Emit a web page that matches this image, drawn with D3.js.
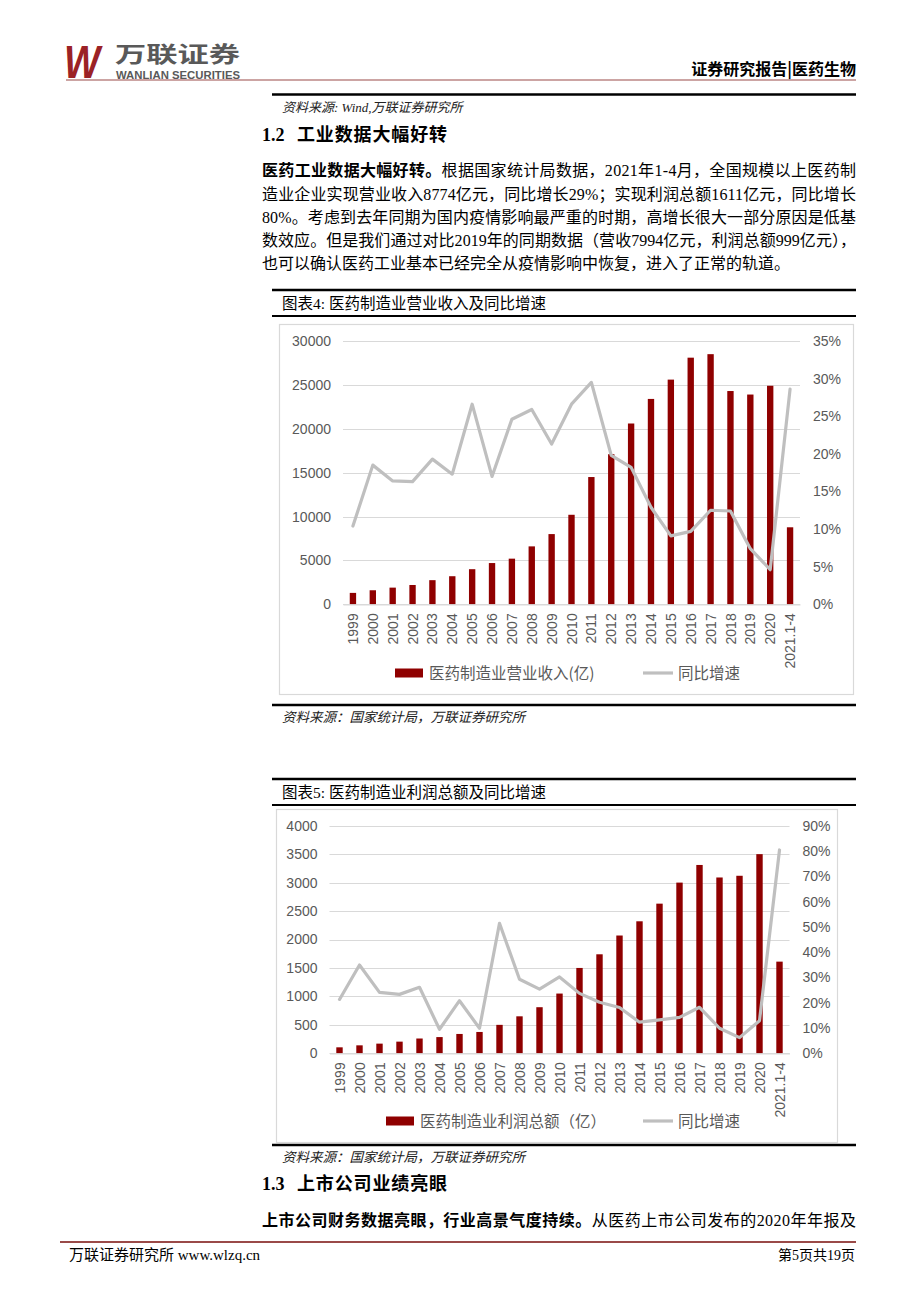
<!DOCTYPE html>
<html lang="zh">
<head>
<meta charset="UTF-8">
<title>医药制造业营业收入及利润</title>
<script src="https://d3js.org/d3.v7.min.js"></script>
<style>
  * { margin: 0; padding: 0; }
  body { background: #fff; width: 920px; height: 1302px; overflow: hidden; }
  svg { display: block; }
</style>
</head>
<body>
<svg id="page"></svg>
<script>
// 数据
const years = ['1999','2000','2001','2002','2003','2004','2005','2006','2007','2008','2009','2010',
  '2011','2012','2013','2014','2015','2016','2017','2018','2019','2020','2021.1-4'];
const revenue = [1300,1600,1900,2200,2750,3200,4000,4700,5200,6600,8000,10200,
  14500,17100,20600,23400,25600,28100,28500,24300,23900,24900,8774];
const revenueGrowth = [10.4,18.5,16.4,16.3,19.3,17.3,26.6,17.0,24.6,25.9,21.3,26.6,
  29.5,19.8,18.2,12.9,9.1,9.7,12.5,12.4,7.4,4.6,28.6];
const profit = [105,140,170,205,260,285,340,375,500,650,810,1050,
  1500,1740,2070,2320,2630,3000,3310,3090,3120,3500,1611];
const profitGrowth = [21.3,34.9,24.1,23.3,26.1,9.5,20.8,9.9,51.4,29.3,25.4,30.2,
  23.7,20.2,18.1,12.3,13.2,14.2,18.2,9.9,6.2,12.9,80.4];

const revTicks = [0,5000,10000,15000,20000,25000,30000];
const revGrowthTicks = [0,5,10,15,20,25,30,35];
const profitTicks = [0,500,1000,1500,2000,2500,3000,3500,4000];
const profitGrowthTicks = [0,10,20,30,40,50,60,70,80,90];

const SERIF = "'Liberation Serif', 'Noto Sans CJK SC', serif";
const CJK = "'Noto Sans CJK SC', sans-serif";
const SANS = "'Liberation Sans', Arial, 'Noto Sans CJK SC', sans-serif";
const BAR = '#8f0000', LINE = '#bfbfbf', AXIS_TXT = '#595959', GRID = '#d9d9d9';

const svg = d3.select('#page').attr('width', 920).attr('height', 1302);
svg.append('rect').attr('width', 920).attr('height', 1302).attr('fill', '#fff');

// ---- 页眉 ----
svg.append('text').attr('x', 64).attr('y', 78)
  .attr('font-family', SANS).attr('font-weight', 900).attr('font-style', 'italic')
  .attr('font-size', 46).attr('fill', '#9b2226')
  .attr('textLength', 36).attr('lengthAdjust', 'spacingAndGlyphs').text('W');
svg.append('text').attr('x', 115).attr('y', 62)
  .attr('font-family', CJK).attr('font-weight', 700).attr('font-size', 22).attr('fill', '#595959')
  .attr('textLength', 125).attr('lengthAdjust', 'spacingAndGlyphs').text('万联证券');
svg.append('text').attr('x', 116).attr('y', 78.5)
  .attr('font-family', SANS).attr('font-weight', 700).attr('font-size', 10).attr('fill', '#595959')
  .attr('textLength', 124).attr('lengthAdjust', 'spacingAndGlyphs').text('WANLIAN SECURITIES');
svg.append('text').attr('x', 856).attr('y', 75).attr('text-anchor', 'end')
  .attr('font-family', CJK).attr('font-weight', 700).attr('font-size', 16).attr('fill', '#000')
  .text('证券研究报告|医药生物');
svg.append('line').attr('x1', 66).attr('x2', 856).attr('y1', 80).attr('y2', 80)
  .attr('stroke', '#9a4a48').attr('stroke-width', 1.2);

// 上一图的来源
svg.append('line').attr('x1', 272).attr('x2', 856).attr('y1', 94.5).attr('y2', 94.5)
  .attr('stroke', '#000').attr('stroke-width', 2.5);
svg.append('text').attr('x', 282).attr('y', 112)
  .attr('font-family', SERIF).attr('font-style', 'italic').attr('font-size', 13).attr('fill', '#222')
  .text('资料来源: Wind,万联证券研究所');

function heading(num, title, y) {
  svg.append('text').attr('x', 262).attr('y', y)
    .attr('font-family', SERIF).attr('font-weight', 700).attr('font-size', 18).text(num);
  svg.append('text').attr('x', 297).attr('y', y)
    .attr('font-family', CJK).attr('font-weight', 700).attr('font-size', 18)
    .attr('textLength', 150).attr('lengthAdjust', 'spacing').text(title);
}

function paraLine(parts, y, justify) {
  const t = svg.append('text').attr('x', 262).attr('y', y)
    .attr('font-family', SERIF).attr('font-size', 16).attr('fill', '#000');
  if (justify) t.attr('textLength', 594).attr('lengthAdjust', 'spacing');
  parts.forEach(p => {
    t.append('tspan').attr('font-weight', p.bold ? 700 : 400).text(p.t);
  });
}

heading('1.2', '工业数据大幅好转', 141);
paraLine([{ t: '医药工业数据大幅好转。', bold: true },
  { t: '根据国家统计局数据，2021年1-4月，全国规模以上医药制' }], 176, true);
paraLine([{ t: '造业企业实现营业收入8774亿元，同比增长29%；实现利润总额1611亿元，同比增长' }], 200, true);
paraLine([{ t: '80%。考虑到去年同期为国内疫情影响最严重的时期，高增长很大一部分原因是低基' }], 223, true);
paraLine([{ t: '数效应。但是我们通过对比2019年的同期数据（营收7994亿元，利润总额999亿元），' }], 246, true);
paraLine([{ t: '也可以确认医药工业基本已经完全从疫情影响中恢复，进入了正常的轨道。' }], 269, false);

// ---- 图表 ----
function drawChart(cfg) {
  // 标题栏
  svg.append('line').attr('x1', 272).attr('x2', 856).attr('y1', cfg.titleTop).attr('y2', cfg.titleTop)
    .attr('stroke', '#000').attr('stroke-width', 2.5);
  svg.append('text').attr('x', 282).attr('y', cfg.titleTop + 19)
    .attr('font-family', SERIF).attr('font-size', 15.5).attr('fill', '#000').text(cfg.title);
  svg.append('line').attr('x1', 272).attr('x2', 856).attr('y1', cfg.titleTop + 26).attr('y2', cfg.titleTop + 26)
    .attr('stroke', '#000').attr('stroke-width', 2);

  // 外框
  svg.append('rect').attr('x', cfg.frame[0] + 0.5).attr('y', cfg.frame[1] + 0.5)
    .attr('width', cfg.frame[2] - cfg.frame[0]).attr('height', cfg.frame[3] - cfg.frame[1])
    .attr('fill', '#fff').attr('stroke', GRID).attr('stroke-width', 1.2);

  const x = d3.scaleBand().domain(years).range([cfg.plotX0, cfg.plotX1]).paddingInner(0.68).paddingOuter(0.34);
  const yL = d3.scaleLinear().domain(cfg.leftDomain).range([cfg.y0, cfg.yTop]);
  const yR = d3.scaleLinear().domain(cfg.rightDomain).range([cfg.y0, cfg.yTop]);

  const g = svg.append('g');
  // 网格线
  g.append('g').selectAll('line').data(cfg.leftTicks).join('line')
    .attr('x1', cfg.plotX0).attr('x2', cfg.plotX1)
    .attr('y1', d => Math.round(yL(d)) + 0.5).attr('y2', d => Math.round(yL(d)) + 0.5)
    .attr('stroke', GRID).attr('stroke-width', 1);

  // 左轴
  const axL = g.append('g').attr('transform', `translate(${cfg.plotX0},0)`)
    .call(d3.axisLeft(yL).tickValues(cfg.leftTicks).tickSize(0).tickPadding(12).tickFormat(d3.format('d')));
  axL.select('.domain').remove();
  axL.selectAll('text').attr('font-family', SANS).attr('font-size', 14).attr('fill', AXIS_TXT);

  // 右轴
  const axR = g.append('g').attr('transform', `translate(${cfg.plotX1},0)`)
    .call(d3.axisRight(yR).tickValues(cfg.rightTicks).tickSize(0).tickPadding(13).tickFormat(d => d + '%'));
  axR.select('.domain').remove();
  axR.selectAll('text').attr('font-family', SANS).attr('font-size', 14).attr('fill', AXIS_TXT);

  // 柱
  g.append('g').selectAll('rect').data(cfg.bars).join('rect')
    .attr('x', (d, i) => x(years[i]))
    .attr('width', x.bandwidth())
    .attr('y', d => yL(d))
    .attr('height', d => yL(0) - yL(d))
    .attr('fill', BAR);

  // 折线
  const line = d3.line().x((d, i) => x(years[i]) + x.bandwidth() / 2).y(d => yR(d));
  g.append('path').datum(cfg.growth).attr('d', line)
    .attr('fill', 'none').attr('stroke', LINE).attr('stroke-width', 3.2)
    .attr('stroke-linejoin', 'round').attr('stroke-linecap', 'round');

  // X 轴
  const axB = g.append('g').attr('transform', `translate(0,${cfg.y0})`)
    .call(d3.axisBottom(x).tickSize(0));
  axB.select('.domain').attr('stroke', GRID).attr('stroke-width', 1.2);
  axB.selectAll('text')
    .attr('font-family', SANS).attr('font-size', 14).attr('fill', AXIS_TXT)
    .attr('transform', 'rotate(-90)')
    .attr('text-anchor', 'end')
    .attr('x', -9).attr('y', 0).attr('dy', '0.36em');

  // 图例
  const lg = svg.append('g');
  lg.append('rect').attr('x', cfg.legend.rx).attr('y', cfg.legend.y - 4.5).attr('width', 28).attr('height', 9).attr('fill', BAR);
  lg.append('text').attr('x', cfg.legend.rx + 34).attr('y', cfg.legend.y + 5.5)
    .attr('font-family', CJK).attr('font-size', 15.5).attr('fill', AXIS_TXT).text(cfg.barLabel);
  lg.append('line').attr('x1', cfg.legend.lx).attr('x2', cfg.legend.lx + 30)
    .attr('y1', cfg.legend.y).attr('y2', cfg.legend.y).attr('stroke', LINE).attr('stroke-width', 3.2);
  lg.append('text').attr('x', cfg.legend.lx + 35).attr('y', cfg.legend.y + 5.5)
    .attr('font-family', CJK).attr('font-size', 15.5).attr('fill', AXIS_TXT).text('同比增速');

  // 来源
  svg.append('line').attr('x1', 272).attr('x2', 856).attr('y1', cfg.srcLine).attr('y2', cfg.srcLine)
    .attr('stroke', '#000').attr('stroke-width', 2.5);
  svg.append('text').attr('x', 282).attr('y', cfg.srcLine + 17)
    .attr('font-family', SERIF).attr('font-style', 'italic').attr('font-size', 13.5).attr('fill', '#222')
    .text('资料来源：国家统计局，万联证券研究所');
}

drawChart({
  title: '图表4:  医药制造业营业收入及同比增速',
  titleTop: 290,
  frame: [279, 324, 853, 694],
  plotX0: 343, plotX1: 800, y0: 604.3, yTop: 341,
  leftDomain: [0, 30000], rightDomain: [0, 35],
  leftTicks: revTicks, rightTicks: revGrowthTicks,
  bars: revenue, growth: revenueGrowth,
  barLabel: '医药制造业营业收入(亿)',
  legend: { rx: 395, lx: 643, y: 673 },
  srcLine: 705
});

drawChart({
  title: '图表5:  医药制造业利润总额及同比增速',
  titleTop: 779,
  frame: [276, 809, 837, 1142],
  plotX0: 329.5, plotX1: 789.5, y0: 1053.3, yTop: 825.7,
  leftDomain: [0, 4000], rightDomain: [0, 90],
  leftTicks: profitTicks, rightTicks: profitGrowthTicks,
  bars: profit, growth: profitGrowth,
  barLabel: '医药制造业利润总额（亿）',
  legend: { rx: 386, lx: 643, y: 1121 },
  srcLine: 1145
});

heading('1.3', '上市公司业绩亮眼', 1190);
paraLine([{ t: '上市公司财务数据亮眼，行业高景气度持续。', bold: true },
  { t: '从医药上市公司发布的2020年年报及' }], 1226, true);

// ---- 页脚 ----
svg.append('line').attr('x1', 60).attr('x2', 856).attr('y1', 1242).attr('y2', 1242)
  .attr('stroke', '#9a4a48').attr('stroke-width', 2);
svg.append('text').attr('x', 69).attr('y', 1260)
  .attr('font-family', SERIF).attr('font-size', 15).attr('fill', '#000')
  .text('万联证券研究所  www.wlzq.cn');
svg.append('text').attr('x', 855).attr('y', 1260).attr('text-anchor', 'end')
  .attr('font-family', SERIF).attr('font-size', 14).attr('fill', '#000')
  .text('第5页共19页');
</script>
</body>
</html>
